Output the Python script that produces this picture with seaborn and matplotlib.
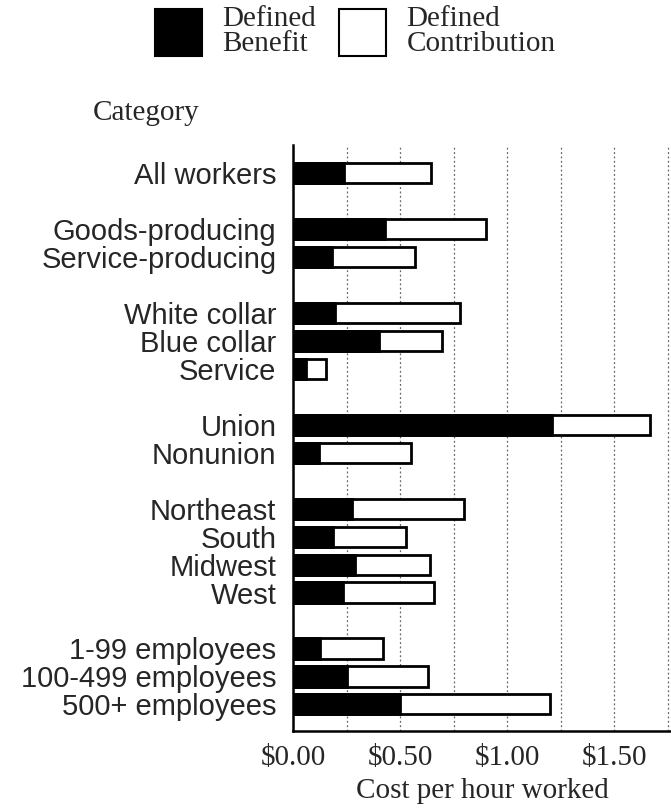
import pandas as pd
import seaborn as sns
import matplotlib.pyplot as plt
from matplotlib.patches import Patch

# Data (cost per hour worked)
categories = ["All workers",
              "Goods-producing", "Service-producing",
              "White collar", "Blue collar", "Service",
              "Union", "Nonunion",
              "Northeast", "South", "Midwest", "West",
              "1-99 employees", "100-499 employees", "500+ employees"]
defined_benefit = [0.24, 0.43, 0.18, 0.195, 0.40, 0.06, 1.21, 0.12,
                   0.275, 0.185, 0.29, 0.235, 0.125, 0.25, 0.50]
defined_contribution = [0.405, 0.47, 0.39, 0.585, 0.295, 0.095, 0.46, 0.43,
                        0.525, 0.345, 0.35, 0.425, 0.295, 0.38, 0.70]
groups = [["All workers"],
          ["Goods-producing", "Service-producing"],
          ["White collar", "Blue collar", "Service"],
          ["Union", "Nonunion"],
          ["Northeast", "South", "Midwest", "West"],
          ["1-99 employees", "100-499 employees", "500+ employees"]]
x_ticks = [0, 0.5, 1.0, 1.5]
x_tick_labels = ["$0.00", "$0.50", "$1.00", "$1.50"]

df = pd.DataFrame({"category": categories,
                   "db": defined_benefit,
                   "dc": defined_contribution})
df["total"] = df["db"] + df["dc"]

# order with blank spacer rows between the groups
order = []
for i, g in enumerate(groups):
    if i > 0:
        order.append("_gap%d" % i)
    order += g

sns.set_style("white")
plt.rcParams["font.family"] = ["Liberation Serif", "DejaVu Serif"]

fig = plt.figure(figsize=(6.71, 8.11), dpi=100)
ax = fig.add_axes([293 / 671, 80 / 811, 378 / 671, 586 / 811])

sns.barplot(data=df, x="total", y="category", order=order, color="white",
            edgecolor="black", linewidth=2, width=0.72, saturation=1, ax=ax)
sns.barplot(data=df, x="db", y="category", order=order, color="black",
            edgecolor="black", linewidth=2, width=0.72, saturation=1, ax=ax)

ax.set_xlim(0, 1.766)
ax.set_ylim(19.95, -1.0)
ax.set_xticks(x_ticks)
ax.set_xticklabels(x_tick_labels, fontsize=21)
ax.set_xticks([0.25, 0.75, 1.25, 1.75], minor=True)
ax.grid(axis="x", which="both", color="0.4", linestyle=(0, (1.5, 2)), linewidth=0.9)
ax.set_axisbelow(True)

ax.set_yticks(range(len(order)))
ax.set_yticklabels(["" if c.startswith("_gap") else c for c in order],
                   fontsize=21, family=["Liberation Sans", "DejaVu Sans"])
ax.tick_params(axis="y", length=0, pad=12)
ax.tick_params(axis="x", length=0, pad=10)

ax.set_xlabel("Cost per hour worked", fontsize=21, labelpad=5)
ax.set_ylabel("")
for s in ["top", "right"]:
    ax.spines[s].set_visible(False)
for s in ["left", "bottom"]:
    ax.spines[s].set_color("black")
    ax.spines[s].set_linewidth(1.8)

fig.text(93 / 671, 1 - 120 / 811, "Category", fontsize=21, ha="left", va="baseline")

handles = [Patch(facecolor="black", edgecolor="black", linewidth=1.5),
           Patch(facecolor="white", edgecolor="black", linewidth=1.5)]
leg = fig.legend(handles, ["Defined\nBenefit", "Defined\nContribution"],
                 loc="upper left", bbox_to_anchor=(155 / 671, 1 - 6 / 811),
                 ncol=2, frameon=False, fontsize=21, handlelength=1.6,
                 handleheight=2.1, handletextpad=0.7, columnspacing=0.8,
                 borderpad=0, borderaxespad=0, labelspacing=0)
for t in leg.get_texts():
    t.set_linespacing(0.95)

fig.savefig("out.png", dpi=100)
